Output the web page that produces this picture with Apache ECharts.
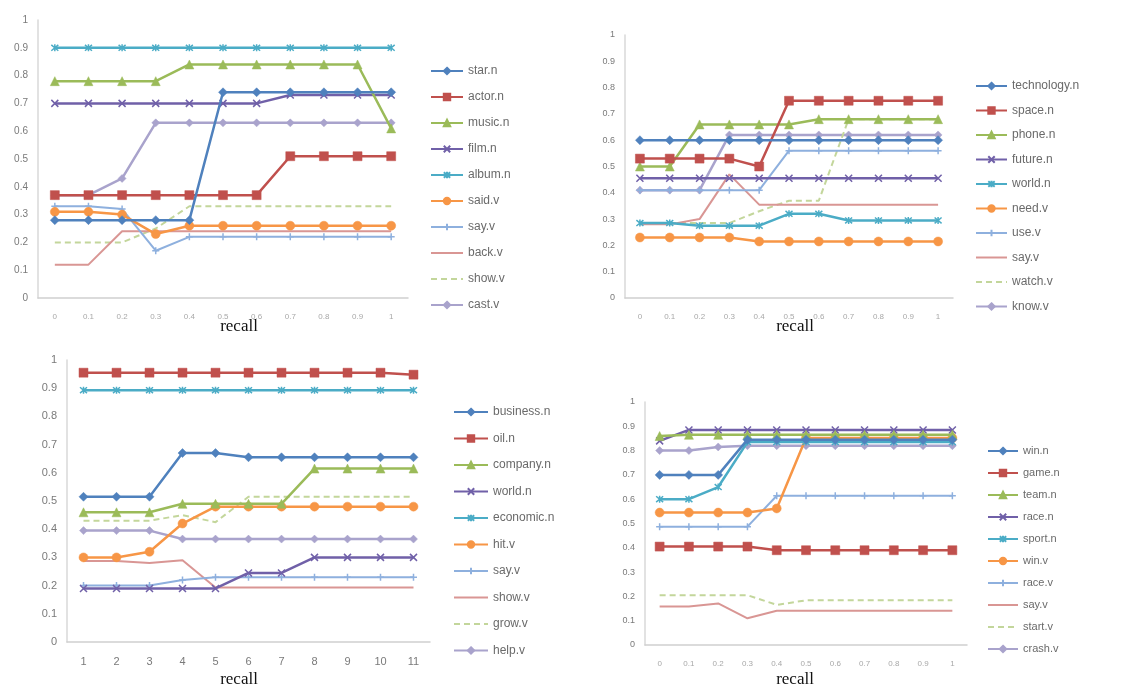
<!DOCTYPE html>
<html>
<head>
<meta charset="utf-8">
<script src="https://cdn.jsdelivr.net/npm/echarts@6/dist/echarts.min.js"></script>
<style>
html,body{margin:0;padding:0;background:#fff;}
#c{width:1125px;height:688px;}
</style>
</head>
<body>
<div id="c"></div>
<script>
// ---- categories ----
const catRecall = ['0','0.1','0.2','0.3','0.4','0.5','0.6','0.7','0.8','0.9','1'];
const catRank = ['1','2','3','4','5','6','7','8','9','10','11'];
const yTicks = ['0','0.1','0.2','0.3','0.4','0.5','0.6','0.7','0.8','0.9','1'];

// ---- panel 1 (top-left) ----
const p1Names = ['star.n','actor.n','music.n','film.n','album.n','said.v','say.v','back.v','show.v','cast.v'];
const p1_star  = [0.28,0.28,0.28,0.28,0.28,0.74,0.74,0.74,0.74,0.74,0.74];
const p1_actor = [0.37,0.37,0.37,0.37,0.37,0.37,0.37,0.51,0.51,0.51,0.51];
const p1_music = [0.78,0.78,0.78,0.78,0.84,0.84,0.84,0.84,0.84,0.84,0.61];
const p1_film  = [0.70,0.70,0.70,0.70,0.70,0.70,0.70,0.73,0.73,0.73,0.73];
const p1_album = [0.90,0.90,0.90,0.90,0.90,0.90,0.90,0.90,0.90,0.90,0.90];
const p1_said  = [0.31,0.31,0.30,0.23,0.26,0.26,0.26,0.26,0.26,0.26,0.26];
const p1_say   = [0.33,0.33,0.32,0.17,0.22,0.22,0.22,0.22,0.22,0.22,0.22];
const p1_back  = [0.12,0.12,0.24,0.24,0.24,0.24,0.24,0.24,0.24,0.24,0.24];
const p1_show  = [0.20,0.20,0.20,0.25,0.33,0.33,0.33,0.33,0.33,0.33,0.33];
const p1_cast  = [0.37,0.37,0.43,0.63,0.63,0.63,0.63,0.63,0.63,0.63,0.63];

// ---- panel 2 (top-right) ----
const p2Names = ['technology.n','space.n','phone.n','future.n','world.n','need.v','use.v','say.v','watch.v','know.v'];
const p2_technology = [0.60,0.60,0.60,0.60,0.60,0.60,0.60,0.60,0.60,0.60,0.60];
const p2_space  = [0.53,0.53,0.53,0.53,0.50,0.75,0.75,0.75,0.75,0.75,0.75];
const p2_phone  = [0.50,0.50,0.66,0.66,0.66,0.66,0.68,0.68,0.68,0.68,0.68];
const p2_future = [0.455,0.455,0.455,0.455,0.455,0.455,0.455,0.455,0.455,0.455,0.455];
const p2_world  = [0.285,0.285,0.275,0.275,0.275,0.32,0.32,0.295,0.295,0.295,0.295];
const p2_need   = [0.23,0.23,0.23,0.23,0.215,0.215,0.215,0.215,0.215,0.215,0.215];
const p2_use    = [0.41,0.41,0.41,0.41,0.41,0.56,0.56,0.56,0.56,0.56,0.56];
const p2_say    = [0.28,0.28,0.30,0.47,0.355,0.355,0.355,0.355,0.355,0.355,0.355];
const p2_watch  = [0.285,0.285,0.285,0.285,0.33,0.37,0.37,0.68,0.68,0.68,0.68];
const p2_know   = [0.41,0.41,0.41,0.62,0.62,0.62,0.62,0.62,0.62,0.62,0.62];

// ---- panel 3 (bottom-left) ----
const p3Names = ['business.n','oil.n','company.n','world.n','economic.n','hit.v','say.v','show.v','grow.v','help.v'];
const p3_business = [0.515,0.515,0.515,0.67,0.67,0.655,0.655,0.655,0.655,0.655,0.655];
const p3_oil      = [0.955,0.955,0.955,0.955,0.955,0.955,0.955,0.955,0.955,0.955,0.948];
const p3_company  = [0.46,0.46,0.46,0.49,0.49,0.49,0.49,0.615,0.615,0.615,0.615];
const p3_world    = [0.19,0.19,0.19,0.19,0.19,0.245,0.245,0.30,0.30,0.30,0.30];
const p3_economic = [0.893,0.893,0.893,0.893,0.893,0.893,0.893,0.893,0.893,0.893,0.893];
const p3_hit      = [0.30,0.30,0.32,0.42,0.48,0.48,0.48,0.48,0.48,0.48,0.48];
const p3_say      = [0.20,0.20,0.20,0.22,0.23,0.23,0.23,0.23,0.23,0.23,0.23];
const p3_show     = [0.287,0.287,0.28,0.29,0.193,0.193,0.193,0.193,0.193,0.193,0.193];
const p3_grow     = [0.43,0.43,0.43,0.45,0.425,0.515,0.515,0.515,0.515,0.515,0.515];
const p3_help     = [0.395,0.395,0.395,0.365,0.365,0.365,0.365,0.365,0.365,0.365,0.365];

// ---- panel 4 (bottom-right) ----
const p4Names = ['win.n','game.n','team.n','race.n','sport.n','win.v','race.v','say.v','start.v','crash.v'];
const p4_win_n  = [0.70,0.70,0.70,0.845,0.845,0.845,0.845,0.845,0.845,0.845,0.845];
const p4_game   = [0.405,0.405,0.405,0.405,0.39,0.39,0.39,0.39,0.39,0.39,0.39];
const p4_team   = [0.86,0.865,0.865,0.865,0.865,0.865,0.865,0.865,0.865,0.865,0.865];
const p4_race_n = [0.84,0.885,0.885,0.885,0.885,0.885,0.885,0.885,0.885,0.885,0.885];
const p4_sport  = [0.60,0.60,0.65,0.835,0.835,0.835,0.835,0.835,0.835,0.835,0.835];
const p4_win_v  = [0.545,0.545,0.545,0.545,0.562,0.852,0.852,0.852,0.852,0.852,0.852];
const p4_race_v = [0.487,0.487,0.487,0.487,0.614,0.614,0.614,0.614,0.614,0.614,0.614];
const p4_say    = [0.158,0.158,0.171,0.11,0.141,0.141,0.141,0.141,0.141,0.141,0.141];
const p4_start  = [0.205,0.205,0.205,0.205,0.165,0.184,0.184,0.184,0.184,0.184,0.184];
const p4_crash  = [0.80,0.80,0.815,0.82,0.82,0.82,0.82,0.82,0.82,0.82,0.82];

const p1Data = [p1_star,p1_actor,p1_music,p1_film,p1_album,p1_said,p1_say,p1_back,p1_show,p1_cast];
const p2Data = [p2_technology,p2_space,p2_phone,p2_future,p2_world,p2_need,p2_use,p2_say,p2_watch,p2_know];
const p3Data = [p3_business,p3_oil,p3_company,p3_world,p3_economic,p3_hit,p3_say,p3_show,p3_grow,p3_help];
const p4Data = [p4_win_n,p4_game,p4_team,p4_race_n,p4_sport,p4_win_v,p4_race_v,p4_say,p4_start,p4_crash];

// ---- styles ----
const colors = ['#4F81BD','#C0504D','#9BBB59','#7060A8','#4BACC6','#F79646','#8EB0DE','#D99694','#C3D69B','#A9A3CC'];
const xPath = 'path://M0,0L10,10M10,0L0,10';
const starPath = 'path://M0,0L10,10M10,0L0,10M5,-1L5,11';
const plusPath = 'path://M5,0L5,10M2,5L8,5';
const symbols = ['diamond','rect','triangle',xPath,starPath,'circle',plusPath,'none','none','diamond'];
const symSizes = [9,9,9,7,7,9,7,4,4,8];
const widths = [2.5,2.5,2.5,2.5,2.5,2.5,2,2,2,2.5];

function buildSeries(names, data, gi) {
  return names.map((n, i) => {
    const strokeSym = (i === 3 || i === 4 || i === 6);
    return {
      name: n + '@' + gi,
      type: 'line',
      xAxisIndex: gi, yAxisIndex: gi,
      data: data[i],
      symbol: symbols[i],
      symbolSize: symSizes[i],
      showSymbol: symbols[i] !== 'none',
      animation: false,
      lineStyle: {color: colors[i], width: widths[i], type: i === 8 ? [6,4] : 'solid'},
      itemStyle: strokeSym ? {color: colors[i], borderColor: colors[i], borderWidth: 1.5}
                           : {color: colors[i], borderColor: colors[i], borderWidth: 0.5},
      z: 10 - i
    };
  });
}

const grids = [
  {left: 38, top: 20, width: 370, height: 278},
  {left: 625, top: 35, width: 328, height: 263},
  {left: 67, top: 360, width: 363, height: 282},
  {left: 645, top: 402, width: 322, height: 243}
];
const xCats = [catRecall, catRecall, catRank, catRecall];
const xFont = [8, 8, 11, 8];
const yFont = [10, 9, 11, 9];

const legendSpecs = [
  {names: p1Names, left: 430, top: 65, gap: 14, gi: 0, w: 32, fs: 12},
  {names: p2Names, left: 975, top: 80, gap: 12.5, gi: 1, w: 31, fs: 12},
  {names: p3Names, left: 453, top: 406, gap: 14.5, gi: 2, w: 34, fs: 12},
  {names: p4Names, left: 987, top: 445, gap: 10, gi: 3, w: 30, fs: 11}
];

const chart = echarts.init(document.getElementById('c'), null, {renderer: 'canvas'});
const option = {
  backgroundColor: '#ffffff',
  animation: false,
  grid: grids,
  xAxis: grids.map((g, i) => ({
    type: 'category', gridIndex: i, data: xCats[i], boundaryGap: true,
    axisLine: {show: true, lineStyle: {color: '#D0D0D0', width: 1.5}},
    axisTick: {show: false},
    axisLabel: {color: i === 2 ? '#7a7a7a' : '#a8a8a8', fontSize: xFont[i], margin: i === 2 ? 14 : 15, fontFamily: 'Liberation Sans'},
    splitLine: {show: false}
  })),
  yAxis: grids.map((g, i) => ({
    type: 'value', gridIndex: i, min: 0, max: 1, interval: 0.1,
    axisLine: {show: true, lineStyle: {color: '#D8D8D8', width: 1.5}},
    axisTick: {show: false},
    axisLabel: {color: '#7a7a7a', fontSize: yFont[i], margin: 10, fontFamily: 'Liberation Sans',
      formatter: v => yTicks[Math.round(v * 10)]},
    splitLine: {show: false}
  })),
  legend: legendSpecs.map(l => ({
    show: true, padding: 0,
    orient: 'vertical', left: l.left, top: l.top,
    itemWidth: l.w, itemHeight: 8, itemGap: l.gap,
    data: l.names.map((n, i) => (symbols[i] === 'none'
      ? {name: n + '@' + l.gi, itemStyle: {opacity: 0}}
      : {name: n + '@' + l.gi})),
    formatter: name => name.split('@')[0],
    textStyle: {color: '#6a6a6a', fontSize: l.fs, lineHeight: 12, fontFamily: 'Liberation Sans'},
    selectedMode: false
  })),
  graphic: [
    [239, 327], [795, 327], [239, 680], [795, 680]
  ].map(p => ({
    type: 'text', x: p[0], y: p[1],
    style: {text: 'recall', fill: '#111', font: '17px "Liberation Serif"', align: 'center', verticalAlign: 'middle'}
  })),
  series: [].concat(
    buildSeries(p1Names, p1Data, 0),
    buildSeries(p2Names, p2Data, 1),
    buildSeries(p3Names, p3Data, 2),
    buildSeries(p4Names, p4Data, 3)
  )
};
chart.setOption(option);
</script>
</body>
</html>
